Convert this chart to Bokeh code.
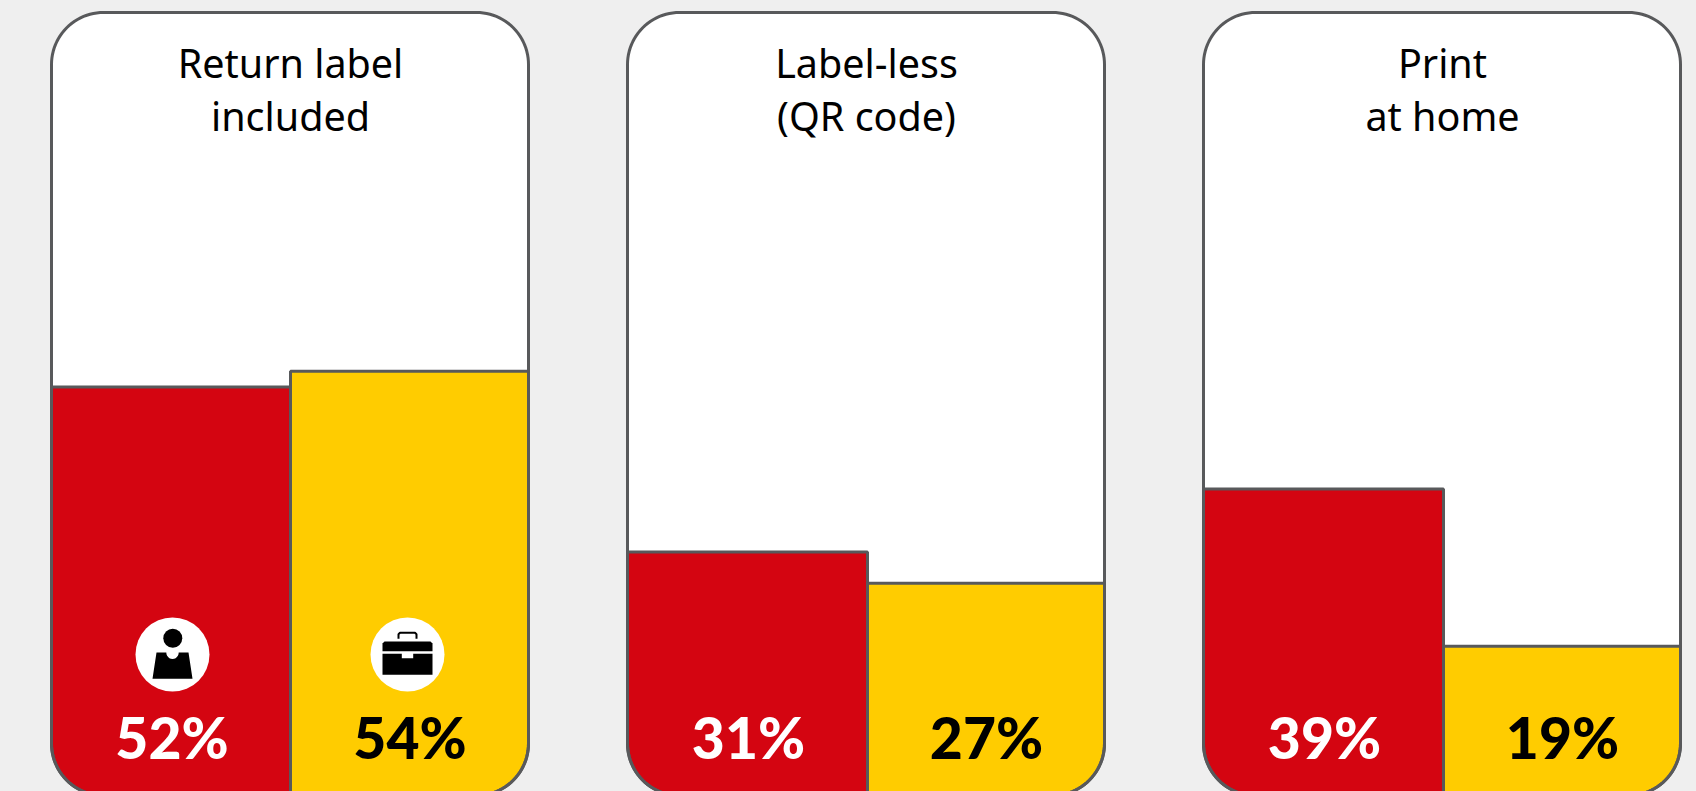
import math
from bokeh.plotting import figure
from bokeh.models import Range1d
from bokeh.core.properties import value
from bokeh.embed import file_html
from bokeh.resources import INLINE

# ---- data ----
titles = [["Return label", "included"], ["Label-less", "(QR code)"], ["Print", "at home"]]
consumer = [52, 31, 39]
business = [54, 27, 19]
consumer_labels = ["52%", "31%", "39%"]
business_labels = ["54%", "27%", "19%"]

# ---- style / layout ----
BG, LINE, RED, YEL = "#efefef", "#58595b", "#d40511", "#ffcc00"
W, H = 1696, 791
card_left = [51, 627, 1203]
card_w = 477
split = [239, 240, 240]
R = 52
PX_PER_UNIT = 7.857
Y0 = 795
TITLE_FONT = "Noto Sans"
NUM_FONT = "'Lato Black','Lato'"

p = figure(width=W, height=H, output_backend="svg", toolbar_location=None,
           x_range=Range1d(0, W),
           y_range=Range1d((Y0 - H) / PX_PER_UNIT, Y0 / PX_PER_UNIT),
           min_border=0, outline_line_color=None, border_fill_color=BG,
           background_fill_color=BG, x_axis_location=None, y_axis_location=None)
p.grid.visible = False
p.extra_y_ranges = {"px": Range1d(H, 0)}


def arc(cx, cy, start, end, n=24):
    """Corner points; cx in px, cy in value units, angles in degrees."""
    ru = R / PX_PER_UNIT
    xs, ys = [], []
    for i in range(n + 1):
        a = math.radians(start + (end - start) * i / n)
        xs.append(cx + R * math.cos(a))
        ys.append(cy + ru * math.sin(a))
    return xs, ys


TOP = (Y0 - 12) / PX_PER_UNIT
ru = R / PX_PER_UNIT


def card_path(l, r):
    xs, ys = [], []
    for cx, cy, s, e in [(l + R, TOP - ru, 180, 90), (r - R, TOP - ru, 90, 0),
                         (r - R, ru, 0, -90), (l + R, ru, -90, -180)]:
        a, b = arc(cx, cy, s, e)
        xs += a
        ys += b
    return xs, ys


def left_bar(l, r, v):
    xs, ys = arc(l + R, ru, 270, 180)
    return xs + [l, r, r], ys + [v, v, 0]


def right_bar(l, r, v):
    xs, ys = arc(r - R, ru, 0, -90)
    return [l, l, r] + xs, [0, v, v] + ys


for i in range(3):
    l = card_left[i]
    r = l + card_w
    m = l + split[i]
    cx, cy = card_path(l, r)
    p.patch(cx, cy, fill_color="white", line_color=None)

    xs, ys = left_bar(l, m, consumer[i])
    p.patch(xs, ys, fill_color=RED, line_color=LINE, line_width=3)
    xs, ys = right_bar(m, r, business[i])
    p.patch(xs, ys, fill_color=YEL, line_color=LINE, line_width=3)

    cx, cy = card_path(l, r)
    p.patch(cx, cy, fill_color=None, line_color=LINE, line_width=3)

    tx = (l + r) / 2 + 0.5
    for t, by in zip(titles[i], [62, 115.5]):
        p.text([tx], [by], text=[t], y_range_name="px", text_align="center",
               text_baseline="alphabetic", text_color="black",
               text_font=value(TITLE_FONT), text_font_size="39.5px")

    p.text([(l + m) / 2 + 1], [736.5], text=[consumer_labels[i]], y_range_name="px",
           text_align="center", text_baseline="alphabetic", text_color="white",
           text_font=value(NUM_FONT), text_font_style="bold", text_font_size="57px")
    p.text([(m + r) / 2 + 0.5], [736.5], text=[business_labels[i]], y_range_name="px",
           text_align="center", text_baseline="alphabetic", text_color="black",
           text_font=value(NUM_FONT), text_font_style="bold", text_font_size="57px")

# ---- icons on the first card ----
ic1, ic2, icy = 172, 407, 654
for cx_ in (ic1, ic2):
    p.circle([cx_], [icy], radius=37, fill_color="white", line_color=None, y_range_name="px")

# person
p.circle([ic1 + 0.3], [637.7], radius=9.5, fill_color="black", line_color=None, y_range_name="px")
nx = [ic1 + 6.2 * math.cos(math.radians(a)) for a in range(180, -1, -15)]
ny = [652 + 6.5 * math.sin(math.radians(a)) for a in range(180, -1, -15)]
p.patch([ic1 - 20, ic1 - 16] + nx + [ic1 + 16, ic1 + 20],
        [678.3, 652] + ny + [652, 678.3],
        fill_color="black", line_color=None, y_range_name="px")

# briefcase
p.patch([ic2 - 25, ic2 - 25, ic2 - 23, ic2 + 23, ic2 + 25, ic2 + 25],
        [650.7, 643, 641, 641, 643, 650.7],
        fill_color="black", line_color=None, y_range_name="px")
p.patch([ic2 - 25, ic2 - 5.7, ic2 - 5.7, ic2 + 5.7, ic2 + 5.7, ic2 + 25, ic2 + 25, ic2 - 25],
        [653.3, 653.3, 657.7, 657.7, 653.3, 653.3, 674.3, 674.3],
        fill_color="black", line_color=None, y_range_name="px")
p.line([ic2 - 9, ic2 - 9, ic2 - 7.5, ic2 + 7.5, ic2 + 9, ic2 + 9],
       [638.3, 633.8, 632.3, 632.3, 633.8, 638.3],
       line_color="black", line_width=2, y_range_name="px")

html = file_html(p, INLINE)
html = html.replace("</head>", "<style>html,body{background:%s;overflow:hidden}</style></head>" % BG, 1)
open("out.html", "w").write(html)
